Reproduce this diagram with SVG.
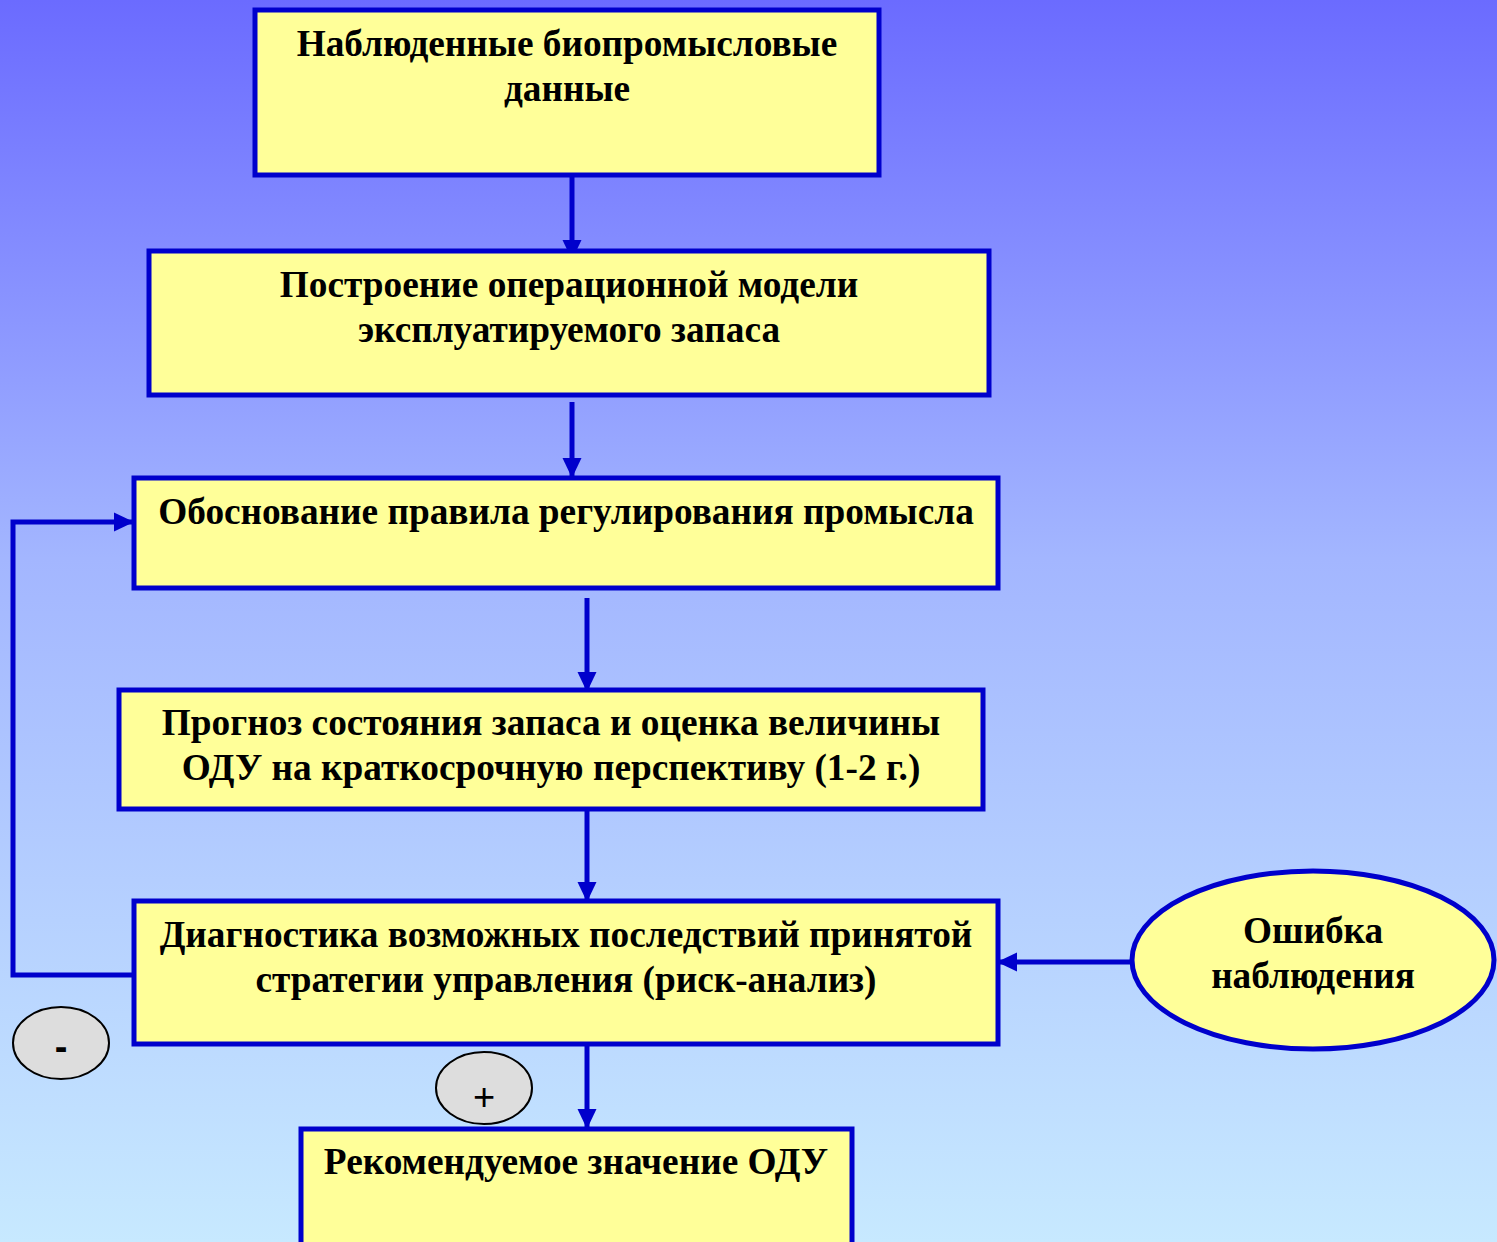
<svg xmlns="http://www.w3.org/2000/svg" width="1497" height="1242" viewBox="0 0 1497 1242">
<defs>
<linearGradient id="bg" x1="0" y1="0" x2="0" y2="1">
<stop offset="0" stop-color="#6B6BFF"/>
<stop offset="0.45" stop-color="#A3B6FF"/>
<stop offset="1" stop-color="#C7E9FF"/>
</linearGradient>
<marker id="ah" markerWidth="4.4" markerHeight="4.4" refX="3.8" refY="2.2" orient="auto" markerUnits="strokeWidth">
<path d="M0,0.3 L4,2.2 L0,4.1 Z" fill="#0000CC"/>
</marker>
<style>
.box{fill:#FFFF99;stroke:#0000CC;stroke-width:5}
.t{font-family:"Liberation Serif","Times New Roman",serif;font-weight:bold;font-size:37.3px;fill:#000;text-anchor:middle}
.c{fill:none;stroke:#0000CC;stroke-width:5}
.sm{fill:#DDDDDD;stroke:#000;stroke-width:2}
</style>
</defs>
<rect x="0" y="0" width="1497" height="1242" fill="url(#bg)"/>
<g id="connectors">
<line class="c" x1="572" y1="175" x2="572" y2="259" marker-end="url(#ah)"/>
<line class="c" x1="572" y1="402" x2="572" y2="477" marker-end="url(#ah)"/>
<line class="c" x1="587" y1="598" x2="587" y2="691" marker-end="url(#ah)"/>
<line class="c" x1="587" y1="809" x2="587" y2="901" marker-end="url(#ah)"/>
<line class="c" x1="587" y1="1037" x2="587" y2="1128" marker-end="url(#ah)"/>
<line class="c" x1="1131" y1="962" x2="998" y2="962" marker-end="url(#ah)"/>
<polyline class="c" points="133,975 13,975 13,522 133,522" marker-end="url(#ah)"/>
</g>
<g id="n1"><rect class="box" x="255" y="10" width="624" height="165"/>
<text class="t" x="567" y="56">Наблюденные биопромысловые</text><text class="t" x="567" y="101">данные</text></g>
<g id="n2"><rect class="box" x="149" y="251" width="840" height="144"/>
<text class="t" x="569" y="297">Построение операционной модели</text><text class="t" x="569" y="342">эксплуатируемого запаса</text></g>
<g id="n3"><rect class="box" x="134" y="478" width="864" height="110"/>
<text class="t" x="566" y="524">Обоснование правила регулирования промысла</text></g>
<g id="n4"><rect class="box" x="119" y="690" width="864" height="119"/>
<text class="t" x="551" y="735">Прогноз состояния запаса и оценка величины</text><text class="t" x="551" y="780">ОДУ на краткосрочную перспективу (1-2 г.)</text></g>
<g id="n5"><rect class="box" x="134" y="901" width="864" height="143"/>
<text class="t" x="566" y="947">Диагностика возможных последствий принятой</text><text class="t" x="566" y="992">стратегии управления (риск-анализ)</text></g>
<g id="n6"><rect class="box" x="301" y="1129" width="551" height="130"/>
<text class="t" x="576" y="1174">Рекомендуемое значение ОДУ</text></g>
<g id="n7"><ellipse cx="1313" cy="960" rx="181" ry="89" fill="#FFFF99" stroke="#0000CC" stroke-width="5"/>
<text class="t" x="1313" y="943">Ошибка</text><text class="t" x="1313" y="988">наблюдения</text></g>
<g id="minus"><ellipse class="sm" cx="61" cy="1043" rx="48" ry="36"/>
<text x="61" y="1060" font-family="Liberation Sans, Arial, sans-serif" font-weight="bold" font-size="38" text-anchor="middle">-</text></g>
<g id="plus"><ellipse class="sm" cx="484" cy="1088" rx="48" ry="36"/>
<text x="484" y="1110" font-family="Liberation Sans, Arial, sans-serif" font-size="38" text-anchor="middle">+</text></g>
</svg>
